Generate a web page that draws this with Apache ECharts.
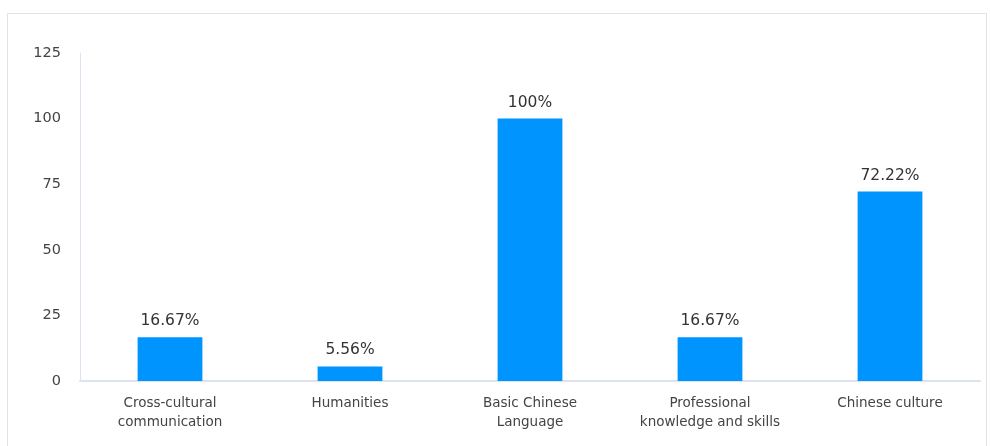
<!DOCTYPE html>
<html>
<head>
<meta charset="utf-8">
<script src="https://cdn.jsdelivr.net/npm/echarts@6/dist/echarts.min.js"></script>
<style>
  html, body { margin: 0; padding: 0; background: #fff; }
  #frame { position: absolute; left: 7px; top: 13px; width: 980px; height: 460px; border: 1px solid #e3e3e3; box-sizing: border-box; }
  #chart { position: absolute; left: 0; top: 0; width: 990px; height: 446px; }
</style>
</head>
<body>
<div id="frame"></div>
<div id="chart"></div>
<script>
// Share of course modules (percent)
const categories = [
  'Cross-cultural\ncommunication',
  'Humanities',
  'Basic Chinese\nLanguage',
  'Professional\nknowledge and skills',
  'Chinese culture'
];
const values = [16.67, 5.56, 100, 16.67, 72.22];
const yTicks = { min: 0, max: 125, interval: 25 };

const chart = echarts.init(document.getElementById('chart'));
chart.setOption({
  animation: false,
  textStyle: { fontFamily: '"DejaVu Sans", "Noto Sans", sans-serif' },
  grid: { left: 80, right: 10, top: 53, bottom: 65, containLabel: false },
  xAxis: {
    type: 'category',
    data: categories,
    axisLine: { lineStyle: { color: '#dde3f0', width: 2 } },
    axisTick: { show: false },
    axisLabel: { color: '#444', fontSize: 13.5, lineHeight: 19, margin: 13, interval: 0 }
  },
  yAxis: {
    type: 'value',
    min: yTicks.min,
    max: yTicks.max,
    interval: yTicks.interval,
    axisLine: { show: true, lineStyle: { color: '#dde3f0', width: 1 } },
    axisTick: { show: false },
    splitLine: { show: false },
    axisLabel: { color: '#444', fontSize: 14.5, margin: 19 }
  },
  series: [{
    type: 'bar',
    data: values,
    barWidth: '36%',
    itemStyle: { color: '#0094ff' },
    label: {
      show: true,
      position: 'top',
      distance: 8,
      color: '#333',
      fontSize: 15.5,
      formatter: p => p.value + '%'
    }
  }]
});
</script>
</body>
</html>
